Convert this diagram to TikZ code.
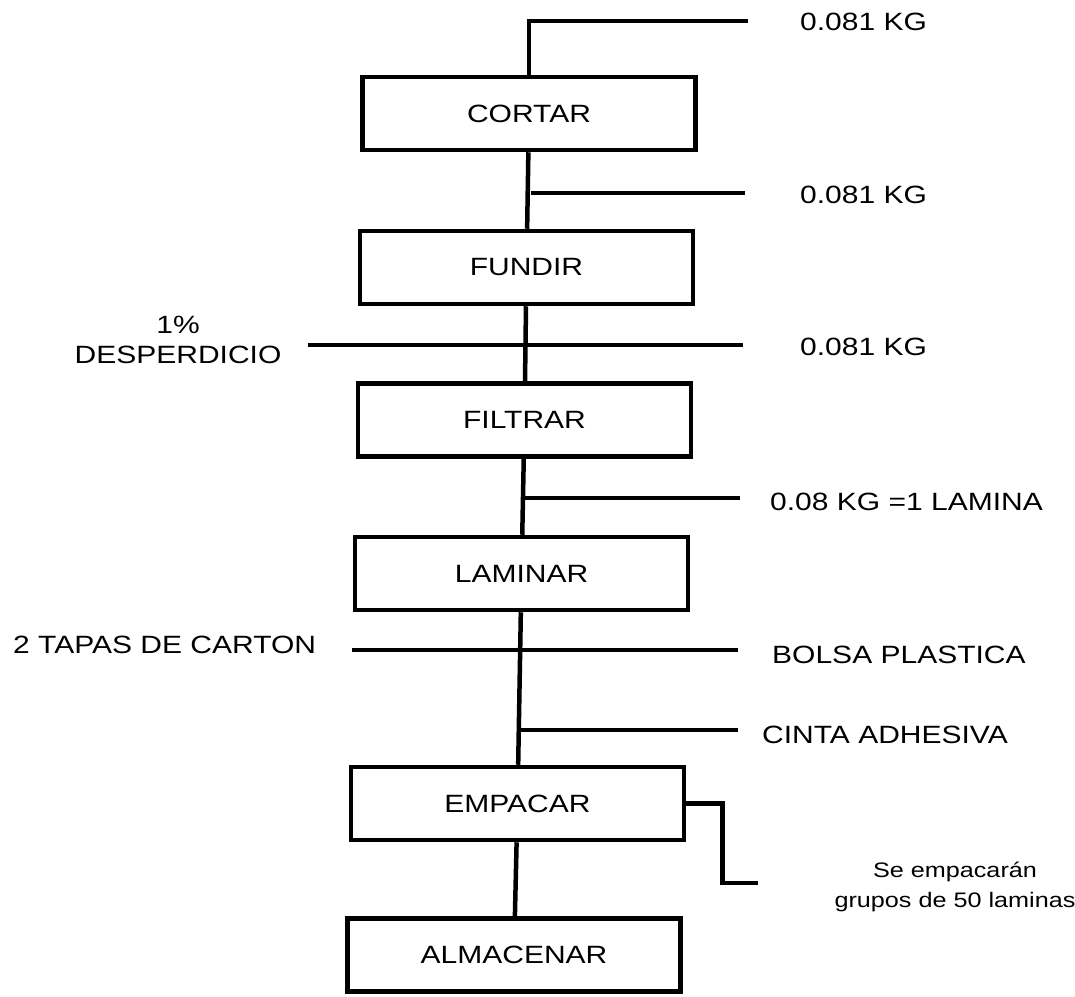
\documentclass[tikz,border=0pt]{standalone}
\usepackage{fontspec}
\setmainfont{Liberation Sans}[FakeStretch=1.2]
\usetikzlibrary{positioning}

\begin{document}
\begin{tikzpicture}[x=1pt, y=-1pt,
    paso/.style={draw=black, line width=4.5pt, minimum width=333pt, minimum height=73pt,
      inner sep=0pt, font=\fontsize{25}{28}\selectfont},
    dato/.style={anchor=west, inner sep=0pt, font=\fontsize{25}{28}\selectfont},
    linea/.style={line width=4.5pt}]
  \useasboundingbox (0,0) rectangle (1075,996);
  % Process boxes.
  \node[paso] (cortar) at (529,113.5) {CORTAR};
  \node[paso] (fundir) at (526.5,267.5) {FUNDIR};
  \node[paso] (filtrar) at (524.5,420) {FILTRAR};
  \node[paso] (laminar) at (521.5,573.5) {LAMINAR};
  \node[paso] (empacar) at (517.5,803.5) {EMPACAR};
  \node[paso] (almacenar) at (514,955) {ALMACENAR};
  % Free ends and junctions of the side lines.
  \coordinate (e0) at (748,21);
  \coordinate (j1) at (530.5,193);
  \coordinate (e1) at (745,193);
  \coordinate (w2) at (308,345);
  \coordinate (e2) at (743,345);
  \coordinate (j3) at (523.5,498);
  \coordinate (e3) at (740,498);
  \coordinate (w4) at (352,650);
  \coordinate (e4) at (738,650);
  \coordinate (j5) at (520,730);
  \coordinate (e5) at (738,730);
  \coordinate (e6) at (758,883);
  % Main flow.
  \draw[linea] (cortar.north) |- (e0);
  \draw[linea] (cortar) -- (fundir);
  \draw[linea] (fundir) -- (filtrar);
  \draw[linea] (filtrar) -- (laminar);
  \draw[linea] (laminar) -- (empacar);
  \draw[linea] (empacar) -- (almacenar);
  % Side lines.
  \draw[linea] (j1) -- (e1);
  \draw[linea] (w2) -- (e2);
  \draw[linea] (j3) -- (e3);
  \draw[linea] (w4) -- (e4);
  \draw[linea] (j5) -- (e5);
  \draw[linea] (empacar.east) -- ++(36,0) |- (e6);
  % Labels.
  \node[dato] (t0) at (800,22) {0.081 KG};
  \node[dato] (t1) at (800,195) {0.081 KG};
  \node[dato] (t2) at (800,347) {0.081 KG};
  \node[dato] (t3) at (770,502) {0.08 KG =1 LAMINA};
  \node[dato] (t4) at (772,655) {BOLSA PLASTICA};
  \node[dato] (t5) at (762,735) {CINTA ADHESIVA};
  \node[dato] (t6) at (13,645) {2 TAPAS DE CARTON};
  \node[align=center, inner sep=0pt, font=\fontsize{25}{30}\selectfont] (desp) at (178,340) {1\%\\DESPERDICIO};
  \node[align=center, inner sep=0pt, font=\fontsize{21}{30}\selectfont] (nota) at (955,887) {Se empacarán\\grupos de 50 laminas};
\end{tikzpicture}
\end{document}
